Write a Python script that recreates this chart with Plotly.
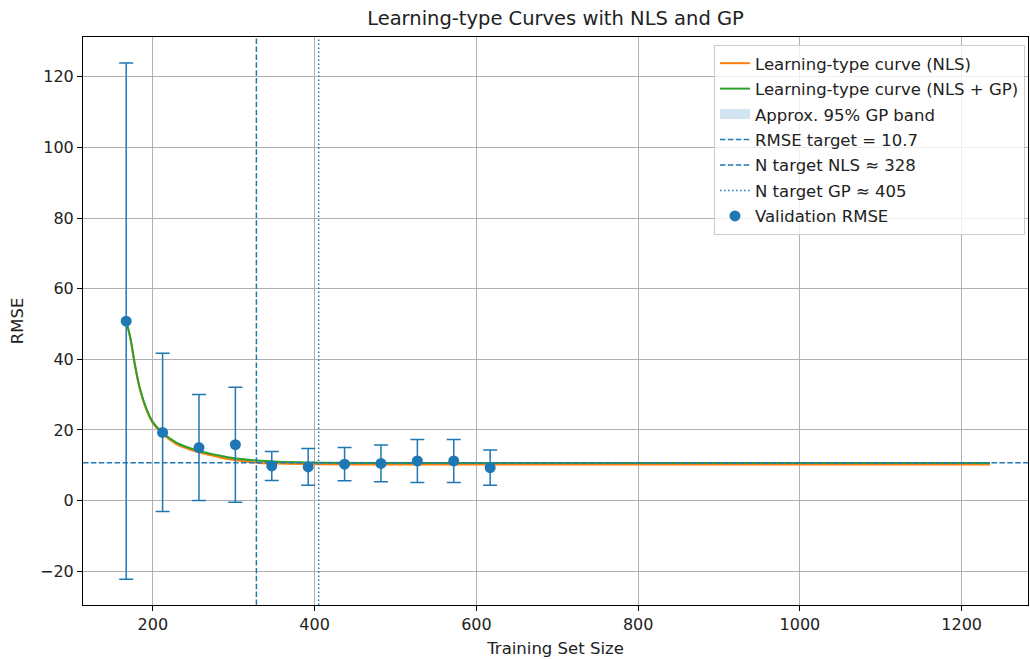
import plotly.graph_objects as go

# ---- data ----
train_sizes = [167, 212, 257, 302, 347, 392, 437, 482, 527, 572, 617]
val_rmse = [50.8, 19.3, 15.0, 15.8, 9.8, 9.5, 10.3, 10.5, 11.2, 11.2, 9.3]
val_err = [73.1, 22.4, 15.0, 16.3, 4.1, 5.2, 4.7, 5.2, 6.1, 6.1, 5.0]

curve_x = [167, 172, 178, 184, 192, 200, 211, 229, 256, 283, 303, 328, 353, 394, 405, 450, 550, 700, 900, 1100, 1235]
curve_nls = [50.8, 46.0, 38.0, 31.4, 25.7, 21.9, 19.1, 16.0, 13.7, 12.2, 11.4, 10.7, 10.45, 10.3, 10.28, 10.22, 10.2, 10.2, 10.2, 10.2, 10.2]
curve_gp = [50.8, 46.3, 38.3, 31.7, 26.0, 22.2, 19.4, 16.4, 14.1, 12.7, 11.9, 11.3, 11.0, 10.75, 10.7, 10.66, 10.62, 10.6, 10.6, 10.6, 10.6]
band_hi = [51.2, 46.7, 38.7, 32.0, 26.3, 22.5, 19.7, 16.7, 14.4, 13.0, 12.2, 11.6, 11.3, 11.05, 11.0, 10.96, 10.92, 10.9, 10.9, 10.9, 10.9]
band_lo = [50.4, 45.9, 37.9, 31.4, 25.7, 21.9, 19.1, 16.1, 13.8, 12.4, 11.6, 11.0, 10.7, 10.45, 10.4, 10.36, 10.32, 10.3, 10.3, 10.3, 10.3]

rmse_target = 10.7
n_target_nls = 328
n_target_gp = 405

x_range = [113.6, 1282]
y_range = [-29.6, 131.3]
x_ticks = [200, 400, 600, 800, 1000, 1200]
y_ticks = [-20, 0, 20, 40, 60, 80, 100, 120]

BLUE = "#1f77b4"
ORANGE = "#ff7f0e"
GREEN = "#2ca02c"
BAND = "rgba(31,119,180,0.2)"
DASH = "5.5px,2.4px"
DOT = "1.5px,2.5px"

fig = go.Figure()

# GP band
fig.add_trace(go.Scatter(x=curve_x, y=band_lo, mode="lines", line=dict(width=0, shape="spline"),
                         showlegend=False, hoverinfo="skip"))
fig.add_trace(go.Scatter(x=curve_x, y=band_hi, mode="lines", line=dict(width=0, shape="spline"),
                         fill="tonexty", fillcolor=BAND, showlegend=False, hoverinfo="skip"))

fig.add_trace(go.Scatter(x=curve_x, y=curve_nls, mode="lines", line=dict(color=ORANGE, width=2, shape="spline"),
                         name="Learning-type curve (NLS)", legendgroup="g1", legendrank=1))
fig.add_trace(go.Scatter(x=curve_x, y=curve_gp, mode="lines", line=dict(color=GREEN, width=2, shape="spline"),
                         name="Learning-type curve (NLS + GP)", legendgroup="g2", legendrank=2))
fig.add_trace(go.Scatter(x=[None], y=[None], mode="lines", line=dict(color=BAND, width=11),
                         name="Approx. 95% GP band", legendgroup="g3", legendrank=3))

# reference lines (shapes) + legend-only entries
fig.add_hline(y=rmse_target, line=dict(color=BLUE, width=1.5, dash=DASH), layer="above")
fig.add_vline(x=n_target_nls, line=dict(color=BLUE, width=1.5, dash=DASH), layer="above")
fig.add_vline(x=n_target_gp, line=dict(color=BLUE, width=1.5, dash=DOT), layer="above")

fig.add_trace(go.Scatter(x=[None], y=[None], mode="lines", line=dict(color=BLUE, width=1.5, dash=DASH),
                         name=f"RMSE target = {rmse_target}", legendgroup="g4", legendrank=4))
fig.add_trace(go.Scatter(x=[None], y=[None], mode="lines", line=dict(color=BLUE, width=1.5, dash=DASH),
                         name=f"N target NLS ≈ {n_target_nls}", legendgroup="g5", legendrank=5))
fig.add_trace(go.Scatter(x=[None], y=[None], mode="lines", line=dict(color=BLUE, width=1.5, dash=DOT),
                         name=f"N target GP ≈ {n_target_gp}", legendgroup="g6", legendrank=6))

fig.add_trace(go.Scatter(x=train_sizes, y=val_rmse, mode="markers",
                         marker=dict(color=BLUE, size=11),
                         error_y=dict(type="data", array=val_err, visible=True, color=BLUE, thickness=1.5, width=7),
                         name="Validation RMSE", legendgroup="g7", legendrank=7))

axis_common = dict(showline=True, linecolor="black", linewidth=1, mirror=True,
                   showgrid=True, gridcolor="#b0b0b0", gridwidth=1,
                   ticks="outside", ticklen=5, tickcolor="black", tickwidth=1,
                   zeroline=False, tickfont=dict(size=16, color="#222"),
                   title_font=dict(size=16.5, color="#222"))

fig.update_xaxes(range=x_range, tickvals=x_ticks, title_text="Training Set Size", title_standoff=9, **axis_common)
fig.update_yaxes(range=y_range, tickvals=y_ticks, title_text="RMSE", title_standoff=12, **axis_common)

fig.update_layout(
    width=1030, height=659,
    margin=dict(l=83, r=2, t=37, b=54),
    paper_bgcolor="white", plot_bgcolor="white",
    font=dict(family="DejaVu Sans", size=16, color="#222"),
    title=dict(text="Learning-type Curves with NLS and GP", x=0.5, xref="paper", xanchor="center",
               y=0.972, yanchor="middle", font=dict(size=19.5, color="#222")),
    legend=dict(x=0.9968, y=0.986, xanchor="right", yanchor="top",
                bgcolor="rgba(255,255,255,0.8)", bordercolor="#cccccc", borderwidth=1,
                font=dict(size=16.5, color="#222"), traceorder="grouped", tracegroupgap=1),
    showlegend=True,
)

fig.write_html("out.html")
